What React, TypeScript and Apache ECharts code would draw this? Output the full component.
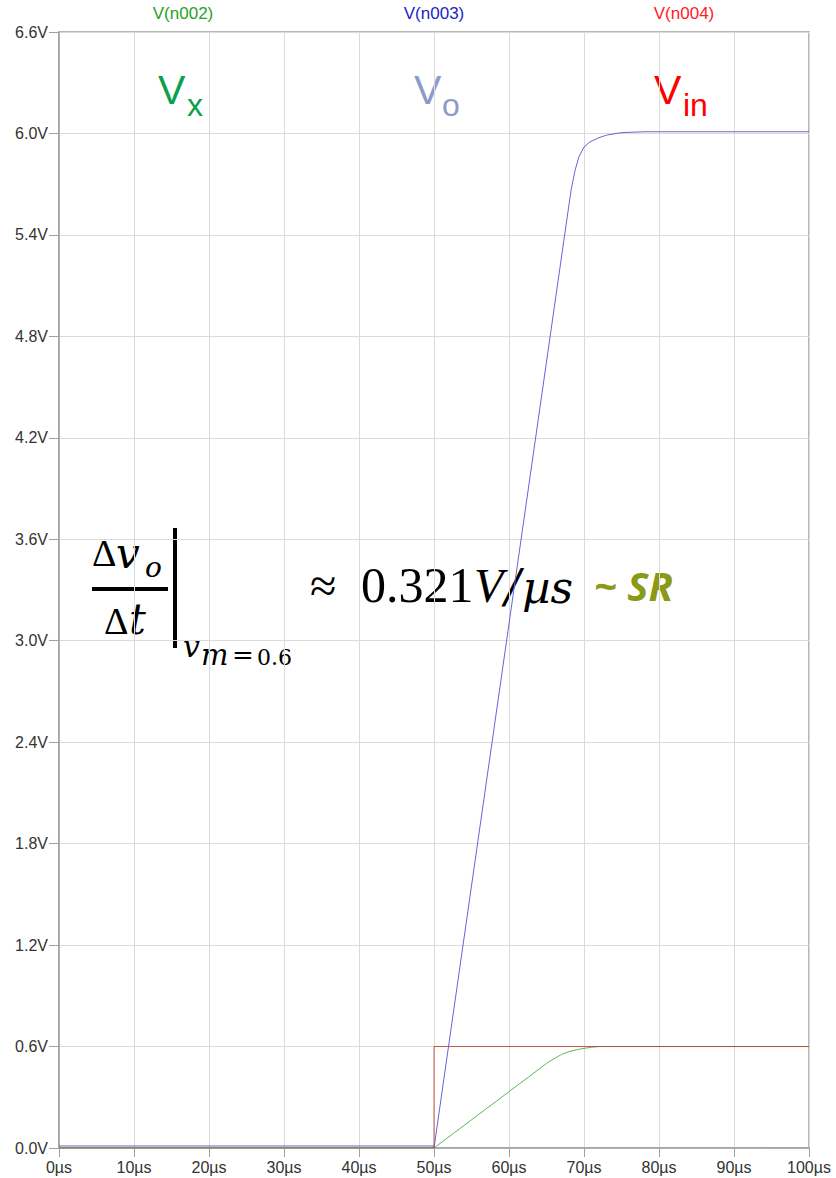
import React, { useEffect, useRef } from "react";
import * as echarts from "echarts";

// time in µs, voltage in V
const xTicks = [0, 10, 20, 30, 40, 50, 60, 70, 80, 90, 100];
const yTicks = [0, 0.6, 1.2, 1.8, 2.4, 3.0, 3.6, 4.2, 4.8, 5.4, 6.0, 6.6];

const vxData: [number, number][] = [
  [0, 0], [50, 0], [60, 0.333], [65, 0.5], [66, 0.528], [67, 0.553], [68, 0.57],
  [69, 0.581], [70, 0.589], [71, 0.596], [72, 0.6], [100, 0.6],
];
const voData: [number, number][] = [
  [0, 0.012], [49.9, 0.012], [50, 0], [68, 5.58], [68.3, 5.67], [68.8, 5.78],
  [69.3, 5.86], [70, 5.92], [70.8, 5.95], [72, 5.975], [73, 5.99], [75, 6.005],
  [78, 6.01], [100, 6.01],
];
const vinData: [number, number][] = [
  [0, 0], [50, 0], [50, 0.6], [100, 0.6],
];

const traceNames = ["V(n002)", "V(n003)", "V(n004)"];

const SERIF = '"Liberation Serif", serif';
const DSERIF = '"DejaVu Serif", serif';
const SANS = '"Liberation Sans", Arial, sans-serif';

// baseline-positioned text helper (bottom of box ≈ baseline + 0.13*size)
function t(text: string, x: number, baseline: number, size: number, opts: any = {}) {
  return {
    type: "text",
    x,
    y: baseline + Math.round(size * 0.13),
    silent: true,
    style: {
      text,
      x: 0,
      y: 0,
      fontSize: size,
      fontFamily: opts.family || SERIF,
      fontStyle: opts.italic ? "italic" : "normal",
      fontWeight: opts.bold ? "bold" : "normal",
      fill: opts.fill || "#000",
      textAlign: opts.align || "left",
      verticalAlign: "bottom",
    },
  };
}

export default function App() {
  const ref = useRef<HTMLDivElement>(null);
  useEffect(() => {
    const chart = echarts.init(ref.current!, null, { renderer: "svg" });
    const axisColor = "#a0a0a0";
    chart.setOption({
      animation: false,
      backgroundColor: "#ffffff",
      grid: {
        left: 59,
        right: 27,
        top: 32,
        bottom: 30,
        show: true,
        borderColor: axisColor,
        borderWidth: 1.5,
      },
      xAxis: {
        type: "value",
        min: 0,
        max: 100,
        interval: 10,
        axisLine: { show: true, lineStyle: { color: axisColor, width: 1.5 } },
        axisTick: { show: true, length: 9, lineStyle: { color: axisColor } },
        splitLine: { show: true, lineStyle: { color: "#dadada", width: 1 } },
        axisLabel: {
          color: "#333",
          fontSize: 16,
          fontFamily: SANS,
          margin: 11,
          formatter: (v: number) => (xTicks.includes(v) ? `${v}µs` : ""),
        },
      },
      yAxis: {
        type: "value",
        min: 0,
        max: 6.6,
        interval: 0.6,
        axisLine: { show: true, lineStyle: { color: axisColor, width: 1.5 } },
        axisTick: { show: true, length: 10, lineStyle: { color: axisColor } },
        splitLine: { show: true, lineStyle: { color: "#dadada", width: 1 } },
        axisLabel: {
          color: "#333",
          fontSize: 16,
          fontFamily: SANS,
          margin: 11,
          formatter: (v: number) => {
            const m = yTicks.find((k) => Math.abs(k - v) < 1e-6);
            return m === undefined ? "" : `${m.toFixed(1)}V`;
          },
        },
      },
      series: [
        {
          name: traceNames[0],
          type: "line",
          data: vxData,
          symbol: "none",
          lineStyle: { color: "#5cb85c", width: 1 },
          z: 2,
        },
        {
          name: traceNames[1],
          type: "line",
          data: voData,
          symbol: "none",
          lineStyle: { color: "#6464e0", width: 1 },
          z: 3,
        },
        {
          name: traceNames[2],
          type: "line",
          data: vinData,
          symbol: "none",
          lineStyle: { color: "#b8432f", width: 1, opacity: 0.85 },
          z: 4,
        },
      ],
      graphic: [
        // trace name labels
        t(traceNames[0], 183, 20, 17, { family: SANS, fill: "#28a028", align: "center" }),
        t(traceNames[1], 434, 20, 17, { family: SANS, fill: "#2424c0", align: "center" }),
        t(traceNames[2], 684, 20, 17, { family: SANS, fill: "#ff2020", align: "center" }),
        // big annotations
        t("V", 158, 105, 41, { family: SANS, fill: "#0aa04c" }),
        t("x", 187, 117, 32, { family: SANS, fill: "#0aa04c" }),
        t("V", 414, 105, 41, { family: SANS, fill: "#8c9bc8" }),
        t("o", 442, 117, 32, { family: SANS, fill: "#8c9bc8" }),
        t("V", 654, 105, 41, { family: SANS, fill: "#ff0000" }),
        t("in", 683, 117, 32, { family: SANS, fill: "#ff0000" }),
        // formula: fraction
        t("Δ", 92, 567, 38),
        t("v", 116, 569, 42, { family: DSERIF, italic: true }),
        t("o", 145, 577, 28, { family: DSERIF, italic: true }),
        {
          type: "rect",
          silent: true,
          shape: { x: 92, y: 587, width: 76, height: 4 },
          style: { fill: "#000" },
        },
        t("Δ", 104, 635, 38),
        t("t", 129, 635, 42, { family: DSERIF, italic: true }),
        {
          type: "rect",
          silent: true,
          shape: { x: 173, y: 528, width: 4, height: 120 },
          style: { fill: "#000" },
        },
        t("v", 183, 657, 30, { family: DSERIF, italic: true }),
        t("m", 201, 665, 29, { family: DSERIF, italic: true }),
        t("=", 232, 665, 26, { family: DSERIF }),
        t("0.6", 257, 665, 22, { family: DSERIF }),
        // formula: value
        t("≈", 310, 603, 48),
        t("0.321", 361, 603, 50),
        t("V", 474, 603, 48, { italic: true }),
        t("/", 505, 603, 46, { family: DSERIF, italic: true }),
        t("µs", 522, 603, 44, { family: DSERIF, italic: true }),
        t("~ SR", 594, 600, 40, { family: '"Open Sans", sans-serif', italic: true, bold: true, fill: "#8a9a17" }),
      ],
    });
    return () => chart.dispose();
  }, []);
  return (
    <div
      ref={ref}
      style={{ position: "fixed", left: 0, top: 0, width: 836, height: 1178, background: "#fff" }}
    />
  );
}
